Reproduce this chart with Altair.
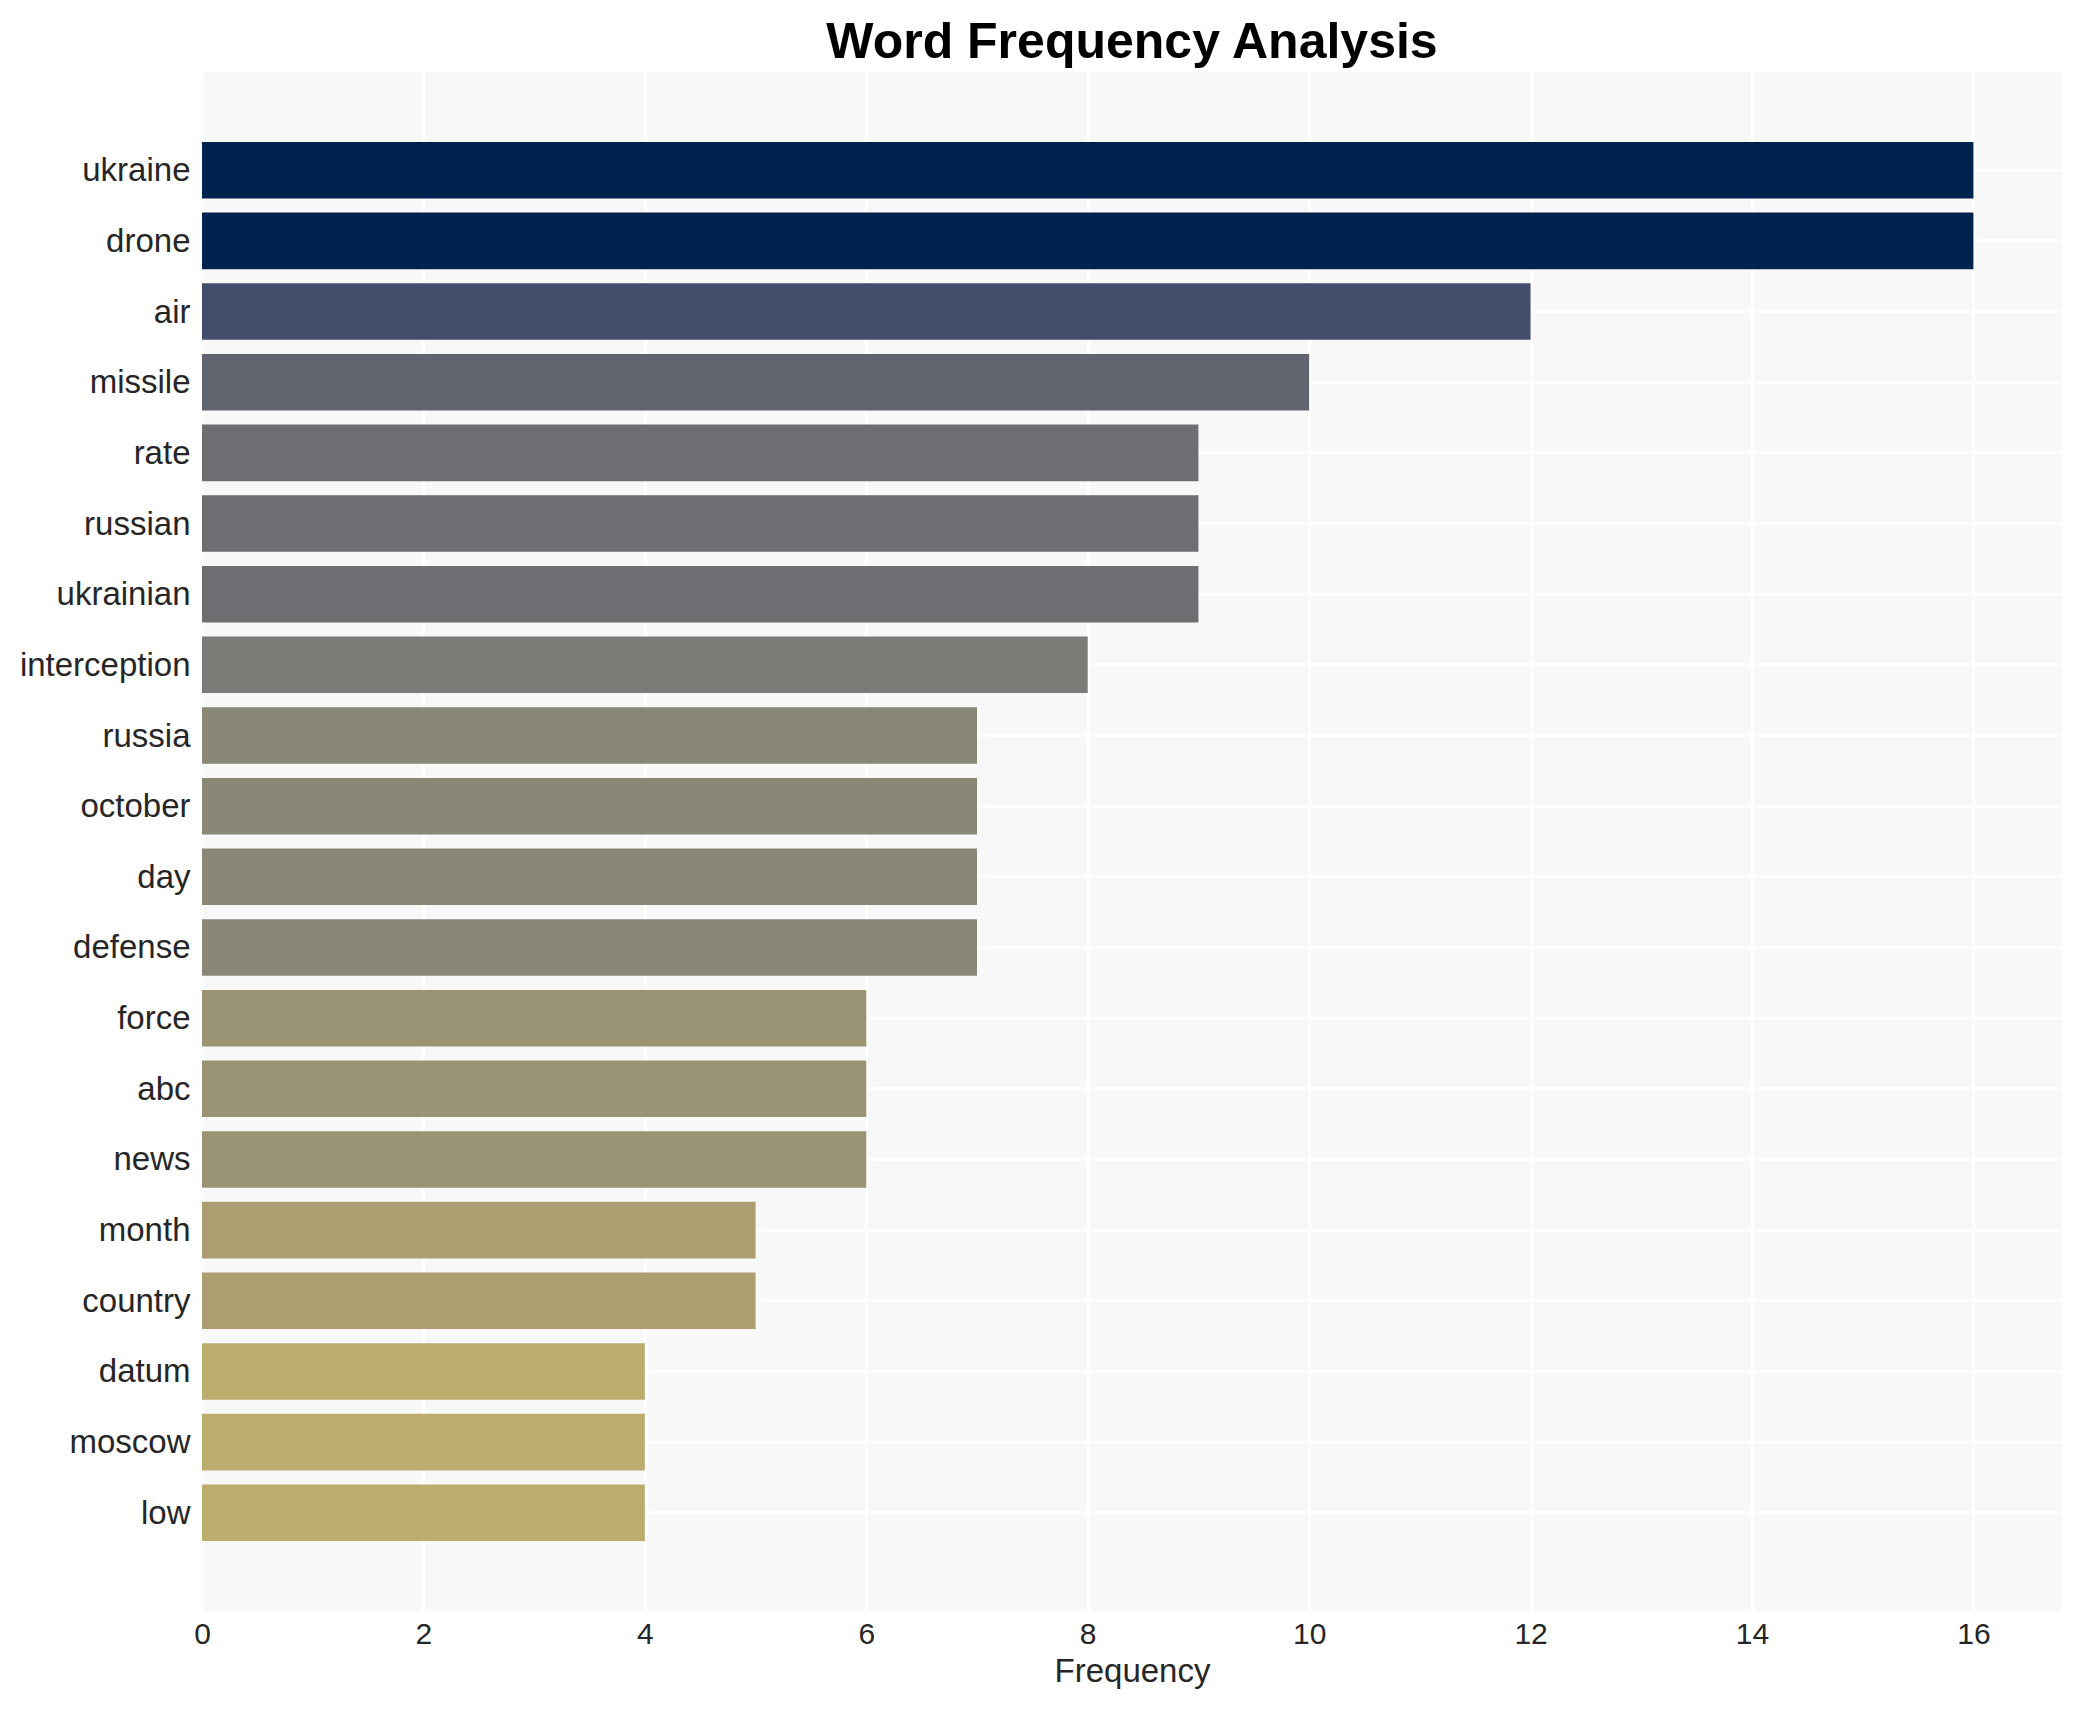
import altair as alt
import pandas as pd

words = ["ukraine", "drone", "air", "missile", "rate", "russian", "ukrainian",
         "interception", "russia", "october", "day", "defense", "force", "abc",
         "news", "month", "country", "datum", "moscow", "low"]
freqs = [16, 16, 12, 10, 9, 9, 9, 8, 7, 7, 7, 7, 6, 6, 6, 5, 5, 4, 4, 4]
x_ticks = [0, 2, 4, 6, 8, 10, 12, 14, 16]

freq_levels = [16, 12, 10, 9, 8, 7, 6, 5, 4]
freq_colors = ["#00224e", "#434e6c", "#60646f", "#6d6e72", "#7c7b78",
               "#8a8777", "#9b9474", "#ab9f71", "#bbad6d"]

df = pd.DataFrame({"word": words, "freq": freqs})

FONT = "Liberation Sans"

chart = (
    alt.Chart(df)
    .mark_bar()
    .encode(
        x=alt.X(
            "freq:Q",
            title="Frequency",
            scale=alt.Scale(domain=[0, 16.8], nice=False, zero=True),
            axis=alt.Axis(
                values=x_ticks,
                format="d",
                grid=True,
                gridColor="#ffffff",
                gridWidth=3,
                domain=False,
                ticks=False,
                labelFlush=False,
                labelPadding=8,
                labelFontSize=30,
                labelColor="#262626",
                labelFont=FONT,
                titleFont=FONT,
                titleFontSize=33,
                titleFontWeight="normal",
                titleColor="#262626",
                titlePadding=6,
            ),
        ),
        y=alt.Y(
            "word:N",
            sort=words,
            title=None,
            scale=alt.Scale(paddingInner=0.2, paddingOuter=0.99),
            axis=alt.Axis(
                grid=True,
                gridColor="#ffffff",
                gridWidth=3,
                domain=False,
                ticks=False,
                labelPadding=12,
                labelFontSize=33,
                labelColor="#262626",
                labelFont=FONT,
                labelOffset=1,
            ),
        ),
        color=alt.Color(
            "freq:O",
            scale=alt.Scale(domain=freq_levels, range=freq_colors),
            legend=None,
        ),
    )
    .properties(
        width=1860,
        height=1539,
        background="#ffffff",
        title=alt.TitleParams(
            "Word Frequency Analysis",
            font=FONT,
            fontSize=50,
            fontWeight="bold",
            color="#000000",
            anchor="middle",
            baseline="alphabetic",
            offset=15,
            dy=51,
        ),
        autosize=alt.AutoSizeParams(type="none"),
        padding={"left": 194, "top": 64, "right": 12, "bottom": 83},
    )
    .configure_view(fill="#f8f8f8", strokeWidth=0)
)

chart.save("out.html", embed_options={"renderer": "svg", "actions": False})
